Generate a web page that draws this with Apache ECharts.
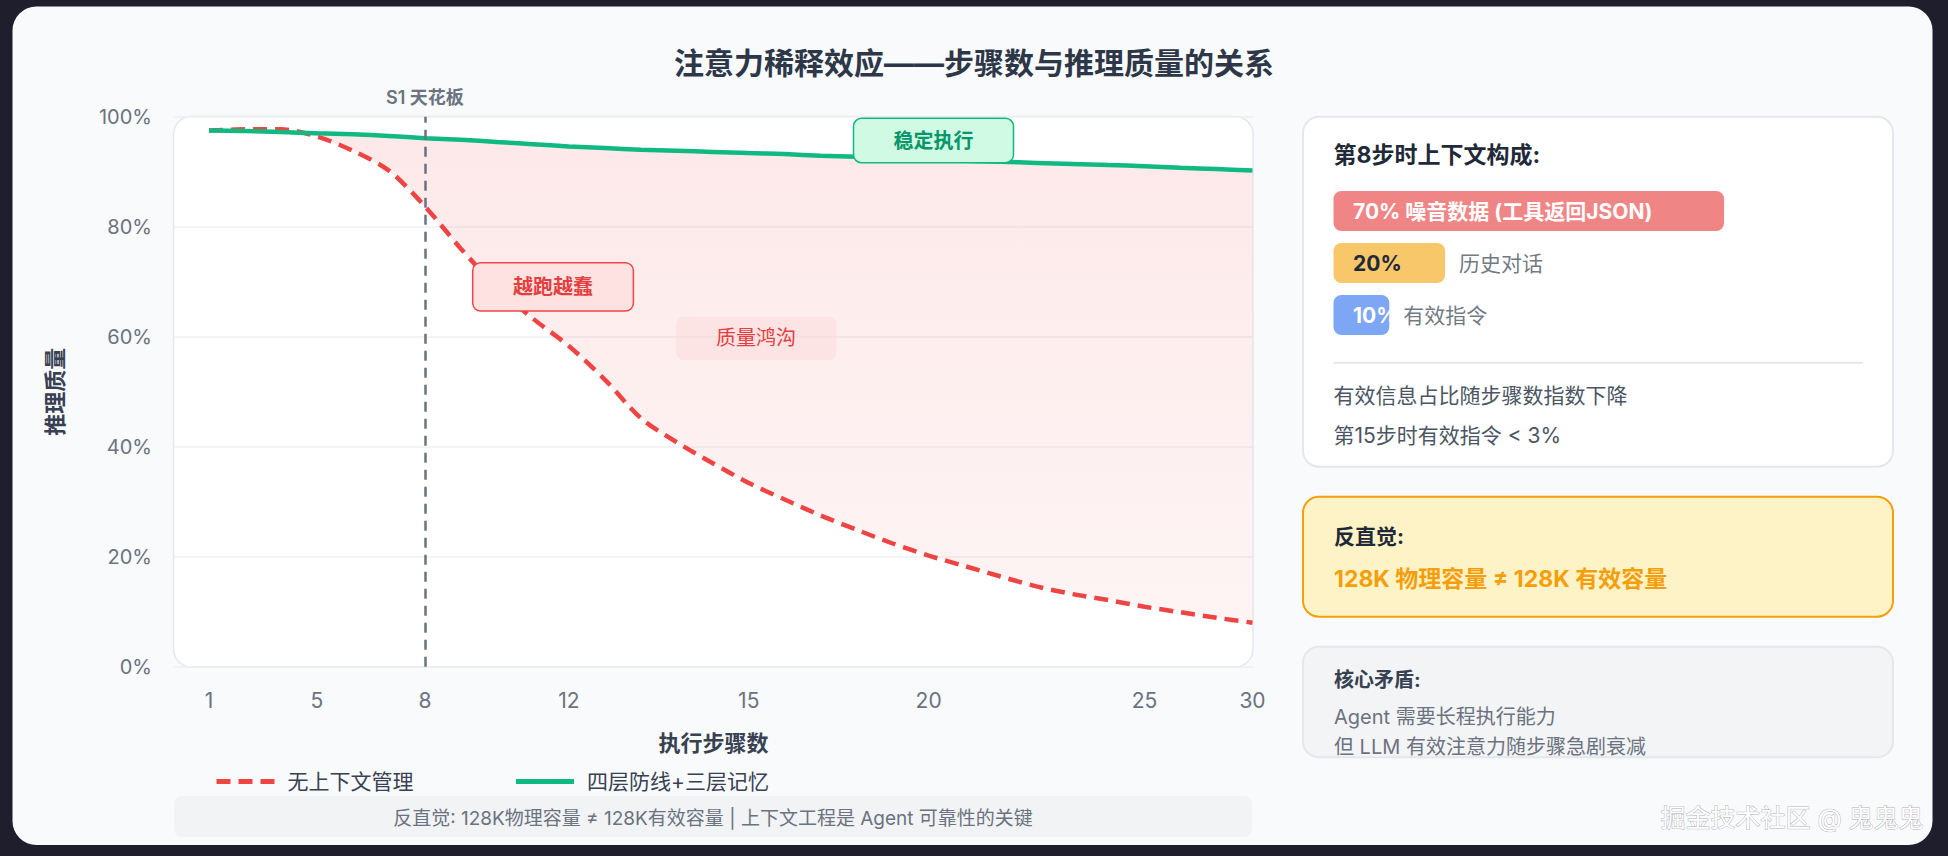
<!DOCTYPE html>
<html><head><meta charset="utf-8">
<script src="https://cdn.jsdelivr.net/npm/echarts@6/dist/echarts.min.js"></script>
<style>html,body{margin:0;padding:0;background:#1e1e2c;} #c{width:1948px;height:856px;}</style>
</head><body><div id="c"></div>
<script>
// ---- data ----
const stepLabels = ['1','','','5','','','8','','','','12','','','','','15','','','','','20','','','','','','25','','','30'];
const noCtxQuality = [97.5, 97.7, 97.7, 96.4, 93.8, 90.2, 83.7, 76.0, 69.0, 63.3, 58.3, 52.2, 45.2, 40.8, 37.0, 33.4, 30.4, 27.5, 24.9, 22.4, 20.2, 18.3, 16.4, 14.6, 13.2, 12.1, 10.9, 9.9, 8.9, 8.0];
const managedQuality = [97.5, 97.4, 97.2, 97.0, 96.8, 96.5, 96.1, 95.8, 95.4, 95.0, 94.6, 94.3, 94.0, 93.8, 93.6, 93.4, 93.2, 92.9, 92.7, 92.5, 92.2, 92.0, 91.8, 91.6, 91.4, 91.2, 91.0, 90.7, 90.5, 90.2];
const ceilingStep = '8';
const yTicks = [0, 20, 40, 60, 80, 100];
const ctxNames = ['噪音数据 (工具返回JSON)', '历史对话', '有效指令'];
const ctxShares = [70, 20, 10];
const seriesNames = ['无上下文管理', '四层防线+三层记忆'];

// ---- styles ----
const FF = "Inter, 'Noto Sans CJK SC', sans-serif";
const ctxColors = ['#f08585', '#f7c76a', '#7da6f5'];
const ctxTextColors = ['#ffffff', '#1f2937', '#ffffff'];

const gapData = managedQuality.map((v, i) => +(v - noCtxQuality[i]).toFixed(2));

function txt(text, x, y, size, color, weight, align, extra) {
  return Object.assign({
    type: 'text', z: 100,
    style: { text: text, x: x, y: y, fill: color, fontSize: size, fontWeight: weight || 'normal',
      fontFamily: FF, align: align || 'left', verticalAlign: 'middle' }
  }, extra || {});
}
function box(x, y, w, h, r, fill, stroke, lw, z) {
  return { type: 'rect', z: z, shape: { x: x, y: y, width: w, height: h, r: r },
    style: { fill: fill, stroke: stroke || null, lineWidth: lw || 0 } };
}

const chart = echarts.init(document.getElementById('c'), null, { renderer: 'svg' });
const option = {
  backgroundColor: '#1e1e2c',
  animation: false,
  textStyle: { fontFamily: FF },
  title: {
    text: '注意力稀释效应——步骤数与推理质量的关系',
    left: 'center', top: 43,
    textStyle: { fontSize: 30, fontWeight: 'bold', color: '#2d3748', fontFamily: FF }
  },
  legend: {
    data: seriesNames, left: 209, top: 766,
    itemWidth: 58, itemHeight: 22, itemGap: 100,
    lineStyle: { width: 5 },
    itemStyle: { color: 'rgba(0,0,0,0)', borderColor: 'rgba(0,0,0,0)', borderWidth: 0, opacity: 0 },
    textStyle: { fontSize: 21, color: '#374151', fontFamily: FF, padding: [0, 0, 0, 8] }
  },
  grid: [
    { left: 174, top: 116.7, width: 1079, height: 550 },
    { left: 209, top: 116.7, width: 1043.5, height: 550 },
    { left: 1333.5, top: 185, width: 558, height: 156 }
  ],
  xAxis: [
    { gridIndex: 0, type: 'value', min: 0, max: 1,
      axisLine: { show: false }, axisTick: { show: false }, axisLabel: { show: false }, splitLine: { show: false },
      name: '执行步骤数', nameLocation: 'middle', nameGap: 65,
      nameTextStyle: { fontSize: 22, fontWeight: 600, color: '#374151', fontFamily: FF } },
    { gridIndex: 1, type: 'category', data: stepLabels, boundaryGap: false,
      axisLine: { show: false }, axisTick: { show: false },
      axisLabel: { interval: 0, margin: 23, fontSize: 21, color: '#6b7280', fontFamily: FF } },
    { gridIndex: 2, type: 'value', min: 0, max: 100, show: false }
  ],
  yAxis: [
    { gridIndex: 0, type: 'value', min: yTicks[0], max: yTicks[yTicks.length - 1], interval: yTicks[1] - yTicks[0],
      axisLine: { show: false }, axisTick: { show: false },
      axisLabel: { formatter: '{value}%', margin: 22, fontSize: 20, color: '#6b7280', fontFamily: FF, padding: [6, 0, 0, 0] },
      splitLine: { lineStyle: { color: '#eef0f3', width: 1.5 } },
      name: '推理质量', nameLocation: 'middle', nameGap: 108, nameRotate: 90,
      nameTextStyle: { fontSize: 22, fontWeight: 'bold', color: '#374151', fontFamily: FF } },
    { gridIndex: 1, type: 'value', min: 0, max: 100, show: false },
    { gridIndex: 2, type: 'category', data: ctxNames, inverse: true, show: false }
  ],
  series: [
    { name: 'base', type: 'line', xAxisIndex: 1, yAxisIndex: 1, stack: 'band', stackStrategy: 'all',
      data: noCtxQuality, smooth: 0.3, symbol: 'none', silent: true,
      lineStyle: { opacity: 0, width: 0 }, z: 2 },
    { name: 'gap', type: 'line', xAxisIndex: 1, yAxisIndex: 1, stack: 'band', stackStrategy: 'all',
      data: gapData, smooth: 0.3, symbol: 'none', silent: true,
      lineStyle: { opacity: 0, width: 0 },
      areaStyle: { color: { type: 'linear', x: 0, y: 0, x2: 0, y2: 1,
        colorStops: [{ offset: 0, color: 'rgba(239,68,68,0.17)' }, { offset: 1, color: 'rgba(239,68,68,0.08)' }] } },
      z: 2 },
    { name: seriesNames[0], type: 'line', xAxisIndex: 1, yAxisIndex: 1,
      data: noCtxQuality, smooth: 0.3, symbol: 'none',
      itemStyle: { color: '#ef4444' },
      lineStyle: { color: '#ef4444', width: 4.5, type: [14, 8] },
      markLine: { symbol: 'none', silent: true, animation: false,
        data: [{ xAxis: ceilingStep }],
        lineStyle: { color: '#6b7280', width: 2.5, type: [10, 7] },
        label: { formatter: 'S1 天花板', position: 'end', distance: 10, fontSize: 18, fontWeight: 600, color: '#6b7280', fontFamily: FF },
        emphasis: { disabled: true } },
      z: 3 },
    { name: seriesNames[1], type: 'line', xAxisIndex: 1, yAxisIndex: 1,
      data: managedQuality, smooth: 0.3, symbol: 'none',
      itemStyle: { color: '#10b981' },
      lineStyle: { color: '#10b981', width: 4.5 },
      z: 4 },
    { name: 'ctx', type: 'bar', xAxisIndex: 2, yAxisIndex: 2, barWidth: 40, silent: true,
      data: ctxShares.map((v, i) => ({ value: v, name: ctxNames[i],
        itemStyle: { color: ctxColors[i], borderRadius: 8 },
        label: { color: ctxTextColors[i] } })),
      label: { show: true, position: 'insideLeft', distance: 19.5, fontSize: 21, fontWeight: 'bold', fontFamily: FF,
        formatter: p => p.value >= 50 ? p.value + '% ' + p.name : p.value + '%' },
      z: 5 },
    { name: 'ctxDesc', type: 'scatter', xAxisIndex: 2, yAxisIndex: 2, symbolSize: 0, silent: true,
      data: ctxShares.map((v, i) => [v, ctxNames[i]]).filter(d => d[0] < 50),
      label: { show: true, position: 'right', distance: 14, fontSize: 21, color: '#4b5563', fontFamily: FF,
        formatter: p => p.value[1] },
      z: 5 }
  ],
  graphic: { elements: [
    box(12.5, 6.5, 1920, 838.5, 24, '#f8fafc', null, 0, -100),
    box(173.5, 116.5, 1079.5, 550.5, 18, '#ffffff', '#e5e7eb', 1.5, -90),
    // annotations
    box(853.5, 118.3, 160, 44.4, 8, '#d1fae5', '#10b981', 1.5, 90),
    txt('稳定执行', 933.5, 140.5, 20, '#059669', 'bold', 'center'),
    box(472.7, 262.7, 160.7, 48.3, 8, '#fee2e2', '#ef4444', 1.5, 90),
    txt('越跑越蠢', 553, 287, 20, '#e53e3e', 'bold', 'center'),
    box(676, 316.7, 160.6, 43.3, 8, 'rgba(252,215,215,0.45)', null, 0, 90),
    txt('质量鸿沟', 756, 338, 20, '#e53e3e', 'normal', 'center'),
    // footer
    box(174, 796, 1078, 41, 8, '#f1f3f5', null, 0, -80),
    txt('反直觉: 128K物理容量 ≠ 128K有效容量 | 上下文工程是 Agent 可靠性的关键', 713, 818, 19, '#6b7280', 'normal', 'center'),
    // panel 1
    box(1303, 116.7, 590, 350, 16, '#ffffff', '#e5e7eb', 2, -80),
    txt('第8步时上下文构成:', 1333.5, 155, 23, '#1f2937', 'bold'),
    { type: 'line', z: 50, shape: { x1: 1333.5, y1: 362.7, x2: 1863, y2: 362.7 }, style: { stroke: '#e5e7eb', lineWidth: 2 } },
    txt('有效信息占比随步骤数指数下降', 1333.5, 395, 21, '#4b5563'),
    txt('第15步时有效指令 < 3%', 1333.5, 435, 21, '#4b5563'),
    // panel 2
    box(1303, 496.7, 590, 120, 16, '#fef3c7', '#f59e0b', 2, -80),
    txt('反直觉:', 1334, 536, 21, '#1f2937', 'bold'),
    txt('128K 物理容量 ≠ 128K 有效容量', 1334, 579, 23, '#f59e0b', 'bold'),
    // panel 3
    box(1303, 646.7, 590, 110.6, 16, '#f3f4f6', '#e5e7eb', 2, -80),
    txt('核心矛盾:', 1334, 680, 20, '#374151', 'bold'),
    txt('Agent 需要长程执行能力', 1334, 716.7, 20, '#6b7280'),
    txt('但 LLM 有效注意力随步骤急剧衰减', 1334, 746.7, 20, '#6b7280'),
    // watermark
    { type: 'text', z: 120, style: { text: '掘金技术社区 @ 鬼鬼鬼', x: 1923.6, y: 818, fill: '#ffffff',
      stroke: 'rgba(60,60,60,0.4)', lineWidth: 1, fontSize: 25, fontFamily: FF, align: 'right', verticalAlign: 'middle' } }
  ] }
};
chart.setOption(option);
</script>
</body></html>
